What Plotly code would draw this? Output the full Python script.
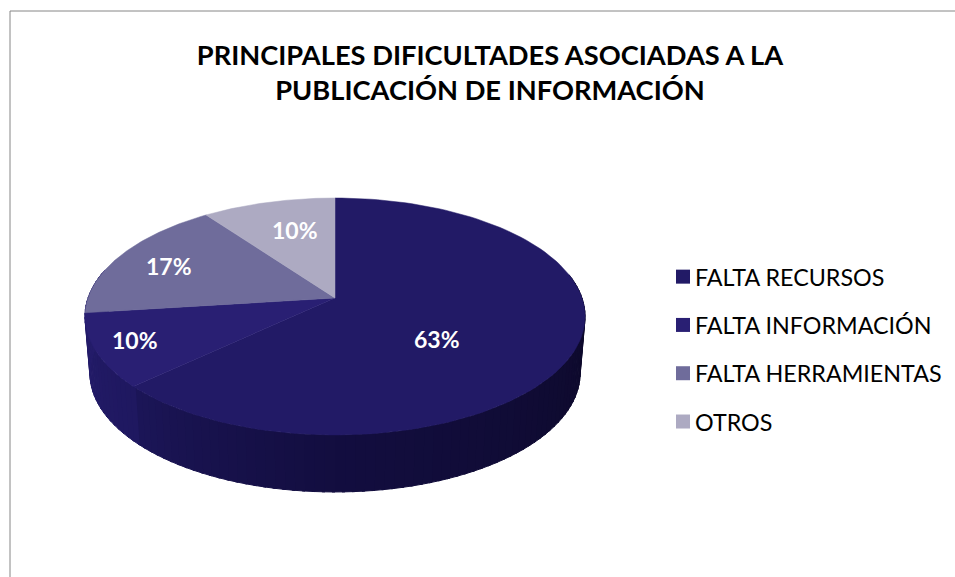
import numpy as np
import plotly.graph_objects as go

categories = ["FALTA RECURSOS", "FALTA INFORMACIÓN", "FALTA HERRAMIENTAS", "OTROS"]
values = [63, 10, 17, 10]
labels = ["63%", "10%", "17%", "10%"]
colors = ["#221a66", "#291f73", "#6f6c9b", "#adaac2"]
title_text = "PRINCIPALES DIFICULTADES ASOCIADAS A LA<br>PUBLICACIÓN DE INFORMACIÓN"

W, H = 955, 577
CX, CY, A, B, K = 335.0, 298.0, 247.0, 115.6, 0.156
DEPTH, SHRINK = 57.0, 0.98
FONT = "Lato"


def project(theta, r=1.0, lower=False):
    """Project pie angle (deg, clockwise from top) onto the tilted pie."""
    t = np.radians(theta)
    u, v = r * np.sin(t), r * np.cos(t)
    den = 1 + K * v
    px, py = A * u / den, -B * v / den
    if lower:
        return CX + SHRINK * px, CY + py + DEPTH
    return CX + px, CY + py


def hex_rgb(c):
    return np.array([int(c[i:i + 2], 16) for i in (1, 3, 5)], float)


def shade(theta):
    stops_t = [80, 100, 180, 226.8, 227, 263, 285]
    stops_c = ["#0d0a2a", "#0e0a2c", "#130e40", "#1c1658", "#1f1860", "#241c6a", "#241c6a"]
    rgb = [np.interp(theta, stops_t, [hex_rgb(c)[i] for c in stops_c]) for i in range(3)]
    return "rgb(%d,%d,%d)" % tuple(rgb)


fig = go.Figure()
total = sum(values)
edges = np.cumsum([0] + values) / total * 360

# Side wall as thin shaded strips, driven by the same pie projection
for t0, t1 in zip(np.arange(78, 284, 2.0), np.arange(80, 286, 2.0)):
    ts = np.linspace(t0, t1 + 0.6, 3)
    tx, ty = project(ts)
    bx, by = project(ts[::-1], lower=True)
    col = shade((t0 + t1) / 2)
    fig.add_trace(go.Scatter(
        x=np.r_[tx, bx], y=np.r_[ty, by], mode="lines", fill="toself", fillcolor=col,
        line=dict(color=col, width=1), hoverinfo="skip", showlegend=False))

# Top faces
for i, (name, val, col) in enumerate(zip(categories, values, colors)):
    ts = np.linspace(edges[i], edges[i + 1], 120)
    ex, ey = project(ts)
    fig.add_trace(go.Scatter(
        x=np.r_[CX, ex, CX], y=np.r_[CY, ey, CY], mode="lines", fill="toself", fillcolor=col,
        line=dict(color=col, width=0.5), name=name, text=f"{name}: {val}%", hoverinfo="text",
        showlegend=False))

# Legend entries
for name, col in zip(categories, colors):
    fig.add_trace(go.Scatter(
        x=[None], y=[None], mode="markers", name=name, legendgroup=name,
        marker=dict(symbol="square", size=14, color=col, line=dict(width=0))))

# Data labels
label_r = [0.45, 0.85, 0.74, 0.65]
label_shift = [(-3, -20), (1, 2), (-6, 0), (5, 3)]
annotations = []
for i, lab in enumerate(labels):
    mx, my = project((edges[i] + edges[i + 1]) / 2, label_r[i])
    annotations.append(dict(
        x=float(mx), y=float(my), xref="x", yref="y", text=f"<b>{lab}</b>", showarrow=False,
        xshift=label_shift[i][0], yshift=label_shift[i][1],
        font=dict(family=FONT, size=23, color="white")))

fig.update_layout(
    width=W, height=H, margin=dict(l=0, r=0, t=0, b=0), autosize=False,
    paper_bgcolor="white", plot_bgcolor="white",
    font=dict(family=FONT, color="black"),
    title=dict(text=f"<b>{title_text}</b>", x=490 / W, xanchor="center", y=1 - 65 / H, yanchor="middle",
               font=dict(family=FONT, size=27.25, color="black")),
    xaxis=dict(range=[0, W], visible=False, fixedrange=True),
    yaxis=dict(range=[H, 0], visible=False, fixedrange=True),
    legend=dict(x=655 / W, y=1 - 255 / H, xanchor="left", yanchor="top", tracegroupgap=15,
                font=dict(family=FONT, size=23.3, color="black"), itemclick=False, itemdoubleclick=False,
                bgcolor="rgba(0,0,0,0)"),
    annotations=annotations,
    shapes=[
        dict(type="line", xref="x", yref="y", x0=10, x1=W, y0=11, y1=11, line=dict(color="#868686", width=1)),
        dict(type="line", xref="x", yref="y", x0=10, x1=10, y0=11, y1=H, line=dict(color="#868686", width=1)),
    ],
)
post = """
document.body.style.margin = '0';
var gd = document.getElementById('{plot_id}');
function nudge() {
  document.querySelectorAll('.legendsymbols').forEach(function (g) {
    g.setAttribute('transform', 'translate(8,0)');
  });
}
gd.on('plotly_afterplot', nudge);
nudge();
"""
fig.write_html("out.html", post_script=post, config={"displayModeBar": False})
